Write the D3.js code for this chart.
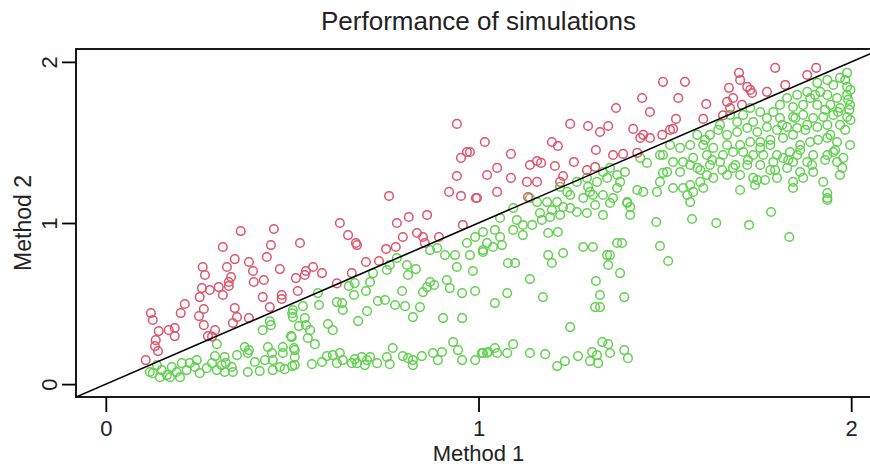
<!DOCTYPE html>
<html>
<head>
<meta charset="utf-8">
<script src="https://cdn.jsdelivr.net/npm/d3@7"></script>
<style>
  html, body { margin: 0; padding: 0; background: #ffffff; }
  svg { display: block; font-family: "Liberation Sans", Arial, sans-serif; }
</style>
</head>
<body>
<svg id="chart" width="870" height="467"></svg>
<script>
// Simulation runs where Method 2 scored higher than Method 1: [method1, method2]
const method2Higher = [
  [0.362,0.95],[0.451,0.963],[0.314,0.851],[0.443,0.863],[0.432,0.789],[0.346,0.776],[0.384,0.758],
  [0.26,0.727],[0.325,0.727],[0.395,0.702],[0.467,0.714],[0.266,0.677],[0.336,0.665],[0.51,0.658],
  [0.397,0.634],[0.424,0.646],[0.33,0.634],[0.303,0.602],[0.33,0.609],[0.258,0.596],[0.279,0.584],
  [0.314,0.553],[0.252,0.54],[0.421,0.54],[0.472,0.553],[0.472,0.528],[0.212,0.497],[0.201,0.441],
  [0.263,0.466],[0.346,0.472],[0.44,0.478],[0.121,0.441],[0.126,0.398],[0.25,0.422],[0.352,0.416],
  [0.263,0.366],[0.384,0.41],[0.341,0.379],[0.142,0.329],[0.185,0.348],[0.169,0.335],[0.185,0.298],
  [0.293,0.335],[0.274,0.298],[0.134,0.273],[0.132,0.236],[0.14,0.205],[0.107,0.149],[0.285,0.295],
  [0.628,1.0],[0.65,0.925],[0.671,0.876],[0.674,0.863],[0.521,0.876],[0.781,1.0],[0.813,1.037],
  [0.862,1.05],[0.797,0.913],[0.835,0.938],[0.851,0.913],[0.856,0.876],[0.894,0.913],[0.958,0.988],
  [0.778,0.851],[0.752,0.839],[0.698,0.758],[0.733,0.764],[0.66,0.689],[0.58,0.689],[0.556,0.727],
  [0.537,0.702],[0.534,0.677],[0.515,0.578],[0.62,0.625],
  [0.942,1.615],[0.969,1.441],[0.953,1.404],[0.942,1.292],[0.921,1.193],[0.953,1.168],[0.993,1.155],
  [0.76,1.168],
  [1.495,1.876],[1.439,1.776],[1.46,1.689],[1.369,1.714],[1.246,1.615],[1.294,1.602],[1.348,1.602],
  [1.326,1.565],[1.415,1.584],[1.442,1.547],[1.434,1.528],[1.46,1.528],[1.493,1.547],[1.514,1.578],
  [1.197,1.503],[1.213,1.478],[1.315,1.453],[1.361,1.422],[1.388,1.429],[1.426,1.435],[1.017,1.503],
  [0.977,1.441],[1.087,1.429],[1.05,1.342],[1.023,1.298],[1.087,1.28],[1.138,1.36],[1.157,1.385],
  [1.168,1.373],[1.205,1.354],[1.256,1.379],[1.13,1.255],[1.157,1.255],[1.227,1.292],[1.219,1.255],
  [1.291,1.329],[1.313,1.348],[1.05,1.193],[0.996,1.155],[1.133,1.161],
  [1.554,1.876],[1.536,1.776],[1.611,1.739],[1.699,1.932],[1.702,1.888],[1.721,1.845],[1.729,1.826],
  [1.734,1.807],[1.796,1.963],[1.672,1.839],[1.774,1.814],[1.823,1.857],[1.882,1.919],[1.906,1.963],
  [1.667,1.752],[1.675,1.714],[1.707,1.733],[1.603,1.646],[1.53,1.646],[1.522,1.584],[1.683,1.776],
  [1.656,1.668]
];

// Simulation runs where Method 1 scored at least as high as Method 2: [method1, method2]
const method1Higher = [
  [0.5,0.44],[0.44,0.39],[0.443,0.366],[0.518,0.36],[0.421,0.335],[0.497,0.298],[0.298,0.248],
  [0.373,0.23],[0.384,0.211],[0.381,0.193],[0.352,0.18],[0.435,0.23],[0.446,0.193],[0.475,0.23],
  [0.475,0.193],[0.507,0.211],[0.293,0.174],[0.319,0.168],[0.322,0.13],[0.4,0.137],[0.427,0.149],
  [0.448,0.149],[0.467,0.106],[0.5,0.112],[0.381,0.075],[0.413,0.081],[0.448,0.087],[0.48,0.093],
  [0.341,0.075],[0.338,0.106],
  [0.118,0.075],[0.137,0.118],[0.15,0.087],[0.164,0.056],[0.177,0.106],[0.19,0.075],[0.204,0.13],
  [0.217,0.087],[0.225,0.13],[0.239,0.106],[0.252,0.068],[0.271,0.099],[0.285,0.13],[0.298,0.087],
  [0.311,0.118],[0.145,0.043],[0.126,0.068],[0.244,0.149],[0.199,0.043],[0.319,0.075],[0.172,0.043],
  [0.781,0.783],[0.762,0.739],[0.754,0.708],[0.808,0.739],[0.832,0.714],[0.811,0.677],[0.717,0.689],
  [0.709,0.634],[0.668,0.627],[0.652,0.609],[0.569,0.565],[0.572,0.491],[0.529,0.484],[0.502,0.46],
  [0.502,0.416],[0.534,0.41],[0.537,0.366],[0.548,0.335],[0.596,0.373],[0.609,0.335],[0.561,0.248],
  [0.542,0.286],[0.62,0.509],[0.634,0.503],[0.636,0.46],[0.666,0.553],[0.698,0.578],[0.701,0.453],
  [0.677,0.391],[0.73,0.516],[0.749,0.522],[0.776,0.491],[0.803,0.484],[0.795,0.578],[0.843,0.478],
  [0.824,0.416],[0.851,0.571],[0.862,0.602],[0.87,0.634],[0.881,0.615],[0.915,0.646],[0.923,0.596],
  [0.956,0.565],[0.991,0.578],[0.905,0.41],[0.956,0.41],[0.942,0.727],[0.985,0.702],[0.87,0.832],
  [0.889,0.845],[0.91,0.801],[0.937,0.801],[0.977,0.801],[0.969,0.876],[0.991,0.913],[1.012,0.944],
  [1.023,0.876],[1.012,0.832],[0.499,0.292],[0.505,0.224],
  [0.507,0.168],[0.507,0.118],[0.553,0.124],[0.58,0.137],[0.593,0.174],[0.609,0.18],[0.628,0.193],
  [0.62,0.13],[0.636,0.149],[0.66,0.13],[0.668,0.155],[0.687,0.168],[0.701,0.149],[0.695,0.118],
  [0.728,0.13],[0.709,0.168],[0.754,0.168],[0.77,0.224],[0.762,0.124],[0.797,0.174],[0.811,0.161],
  [0.824,0.118],[0.848,0.174],[0.878,0.193],[0.891,0.149],[0.902,0.199],[0.932,0.261],[0.945,0.211],
  [0.956,0.149],[0.991,0.149],[1.009,0.193],[1.023,0.193],[0.824,0.149],[0.674,0.13],
  [1.093,1.093],[1.165,1.062],[1.197,1.081],[1.227,1.099],[1.246,1.093],[1.264,1.068],[1.291,1.062],
  [1.313,1.112],[1.353,1.124],[1.399,1.124],[1.407,1.099],[1.407,1.05],[1.334,1.05],[1.219,1.05],
  [1.103,1.019],[1.119,0.988],[1.144,0.988],[1.093,0.957],[1.058,1.031],[1.044,0.957],[1.058,0.913],
  [1.063,0.863],[1.039,0.851],[1.012,0.82],[1.119,0.925],[1.187,0.938],[1.213,0.944],[1.17,1.019],
  [1.192,1.037],[1.079,0.752],[1.098,0.752],[1.187,0.801],[1.197,0.752],[1.227,0.814],[1.281,0.851],
  [1.307,0.851],[1.372,0.876],[1.385,0.876],[1.345,0.801],[1.353,0.801],[1.348,0.739],[1.38,0.689],
  [1.477,1.006],[1.487,0.857],[1.509,0.764],[1.138,0.652],[1.315,0.64],[1.077,0.565],[1.044,0.503],
  [1.173,0.54],[1.326,0.553],[1.391,0.54],[1.313,0.478],[1.326,0.478],[1.246,0.354],
  [1.012,0.193],[1.026,0.199],[1.044,0.224],[1.05,0.193],[1.077,0.193],[1.093,0.248],[1.138,0.193],
  [1.179,0.186],[1.211,0.112],[1.232,0.143],[1.267,0.174],[1.305,0.199],[1.299,0.143],[1.318,0.18],
  [1.321,0.13],[1.332,0.261],[1.348,0.248],[1.353,0.193],[1.391,0.211],[1.401,0.161],
  [1.568,1.13],[1.573,1.025],[1.638,1.0],[1.726,0.988],[1.785,1.068],[1.834,0.913],[1.936,1.143],
  [1.434,1.404],[1.452,1.373],[1.487,1.422],[1.495,1.311],[1.506,1.317],[1.487,1.255],[1.479,1.193],
  [1.426,1.205],[1.442,1.193],[1.393,1.317],[1.372,1.298],[1.353,1.342],[1.334,1.317],[1.345,1.28],
  [1.318,1.255],[1.294,1.224],[1.299,1.193],[1.307,1.174],[1.281,1.155],[1.246,1.174],[1.238,1.193],
  [1.211,1.13],[1.184,1.13],[1.372,1.217],[1.399,1.13],[1.361,1.155],[1.264,1.255],[1.219,1.224],
  [1.157,1.13],[1.138,1.155],[1.334,1.174],[1.38,1.255],[1.291,1.28],
  [1.989,1.932],[1.97,1.901],[1.936,1.888],[1.909,1.87],[1.952,1.857],[1.989,1.845],[1.917,1.814],
  [1.882,1.814],[1.855,1.795],[1.828,1.776],[1.89,1.776],[1.936,1.795],[1.962,1.776],[1.989,1.795],
  [1.997,1.733],[1.97,1.714],[1.944,1.733],[1.909,1.733],[1.871,1.733],[1.844,1.72],[1.809,1.733],
  [1.791,1.689],[1.756,1.689],[1.729,1.714],[1.71,1.671],[1.694,1.627],[1.737,1.627],[1.774,1.652],
  [1.809,1.652],[1.844,1.658],[1.871,1.671],[1.898,1.652],[1.925,1.658],[1.952,1.671],[1.989,1.658],
  [1.97,1.609],[1.936,1.609],[1.909,1.596],[1.882,1.609],[1.855,1.59],[1.828,1.596],[1.801,1.578],
  [1.774,1.596],[1.748,1.565],[1.721,1.59],[1.694,1.565],[1.667,1.547],[1.648,1.609],[1.621,1.547],
  [1.587,1.547],[1.568,1.484],[1.541,1.466],[1.514,1.484],[1.495,1.422],[1.603,1.484],[1.63,1.466],
  [1.667,1.484],[1.702,1.484],[1.729,1.503],[1.756,1.503],[1.783,1.484],[1.817,1.528],[1.844,1.547],
  [1.863,1.484],[1.89,1.503],[1.936,1.528],[1.962,1.503],[1.952,1.441],[1.962,1.379],[1.976,1.342],
  [1.936,1.422],[1.898,1.422],[1.882,1.379],[1.855,1.422],[1.836,1.441],[1.801,1.422],[1.764,1.422],
  [1.737,1.422],[1.71,1.441],[1.683,1.441],[1.656,1.422],[1.613,1.422],[1.576,1.404],[1.549,1.379],
  [1.522,1.379],[1.541,1.317],[1.587,1.342],[1.621,1.36],[1.648,1.379],[1.683,1.342],[1.721,1.36],
  [1.756,1.36],[1.791,1.379],[1.828,1.342],[1.863,1.317],[1.898,1.317],[1.844,1.379],[1.817,1.404],
  [1.783,1.329],[1.737,1.28],[1.748,1.267],[1.702,1.298],[1.667,1.298],[1.613,1.298],[1.595,1.255],
  [1.568,1.236],[1.549,1.217],[1.522,1.217],[1.56,1.174],[1.576,1.193],[1.603,1.217],[1.63,1.28],
  [1.801,1.28],[1.844,1.255],[1.871,1.28],[1.925,1.255],[1.844,1.217],[1.936,1.186],[1.936,1.155],
  [1.97,1.298],[1.979,1.404],
  [1.984,1.888],[1.998,1.826],[1.992,1.764],[1.965,1.689],[1.998,1.64],[1.984,1.578],[1.944,1.547],
  [1.911,1.516],[1.877,1.578],[1.85,1.652],[1.815,1.609],[1.783,1.516],[1.756,1.466],[1.723,1.391],
  [1.689,1.36],[1.654,1.329],[1.627,1.391],[1.595,1.329],[1.568,1.36],[1.608,1.516],[1.643,1.578],
  [1.675,1.671],[1.903,1.795],[1.93,1.702],[1.957,1.453],[1.93,1.391],[1.895,1.36],[1.863,1.453],
  [1.831,1.391],[1.796,1.329],[1.769,1.267],[1.742,1.236],[1.702,1.205],[1.997,1.484],[1.995,1.702]
];

const xTicks = [0, 1, 2];
const yTicks = [0, 1, 2];
const titleText = "Performance of simulations";
const xLabel = "Method 1";
const yLabel = "Method 2";

const colAbove = "#DF536B";
const colBelow = "#61D04F";

const svg = d3.select("#chart");

// Plot region: limits 0..2 padded by 4% on each side
const lim = [-0.08, 2.08];
const x = d3.scaleLinear().domain(lim).range([76, 881]);
const y = d3.scaleLinear().domain(lim).range([397, 49]);

svg.append("defs").append("clipPath").attr("id", "plotClip")
  .append("rect")
  .attr("x", x(lim[0])).attr("y", y(lim[1]))
  .attr("width", x(lim[1]) - x(lim[0])).attr("height", y(lim[0]) - y(lim[1]));

const plot = svg.append("g").attr("clip-path", "url(#plotClip)");

// Points below the diagonal, then points above it
plot.append("g").selectAll("circle")
  .data(method1Higher).join("circle")
  .attr("cx", d => x(d[0])).attr("cy", d => y(d[1])).attr("r", 4.3)
  .attr("fill", "none").attr("stroke", colBelow).attr("stroke-width", 1.5);

plot.append("g").selectAll("circle")
  .data(method2Higher).join("circle")
  .attr("cx", d => x(d[0])).attr("cy", d => y(d[1])).attr("r", 4.3)
  .attr("fill", "none").attr("stroke", colAbove).attr("stroke-width", 1.5);

// Identity line y = x
plot.append("line")
  .attr("x1", x(lim[0])).attr("y1", y(lim[0]))
  .attr("x2", x(lim[1])).attr("y2", y(lim[1]))
  .attr("stroke", "#000").attr("stroke-width", 1.6);

// Frame around the plotting region
svg.append("rect")
  .attr("x", x(lim[0])).attr("y", y(lim[1]))
  .attr("width", x(lim[1]) - x(lim[0])).attr("height", y(lim[0]) - y(lim[1]))
  .attr("fill", "none").attr("stroke", "#000").attr("stroke-width", 1.8);

// Bottom axis
const gx = svg.append("g").attr("transform", `translate(0,${y(lim[0])})`)
  .call(d3.axisBottom(x).tickValues(xTicks).tickFormat(d3.format("d")).tickSize(15).tickPadding(8));
gx.select(".domain").remove();
gx.selectAll(".tick line").attr("stroke", "#000").attr("stroke-width", 1.8);
gx.selectAll(".tick text").attr("fill", "#222").style("font-size", "22px")
  .style("font-family", "'Liberation Sans', Arial, sans-serif");

// Left axis with labels turned parallel to the axis
const gy = svg.append("g").attr("transform", `translate(${x(lim[0])},0)`)
  .call(d3.axisLeft(y).tickValues(yTicks).tickFormat(d3.format("d")).tickSize(14));
gy.select(".domain").remove();
gy.selectAll(".tick line").attr("stroke", "#000").attr("stroke-width", 1.8);
gy.selectAll(".tick text")
  .attr("transform", "rotate(-90)")
  .attr("x", 0).attr("y", -19).attr("dy", 0)
  .attr("text-anchor", "middle")
  .attr("fill", "#222").style("font-size", "22px")
  .style("font-family", "'Liberation Sans', Arial, sans-serif");

// Title and axis titles
svg.append("text")
  .attr("x", (x(lim[0]) + x(lim[1])) / 2).attr("y", 30)
  .attr("text-anchor", "middle").attr("fill", "#222")
  .style("font-size", "26px").text(titleText);

svg.append("text")
  .attr("x", (x(lim[0]) + x(lim[1])) / 2).attr("y", 461)
  .attr("text-anchor", "middle").attr("fill", "#222")
  .style("font-size", "22px").text(xLabel);

svg.append("text")
  .attr("transform", `translate(31,${(y(lim[0]) + y(lim[1])) / 2}) rotate(-90)`)
  .attr("text-anchor", "middle").attr("fill", "#222")
  .style("font-size", "23px").text(yLabel);
</script>
</body>
</html>
